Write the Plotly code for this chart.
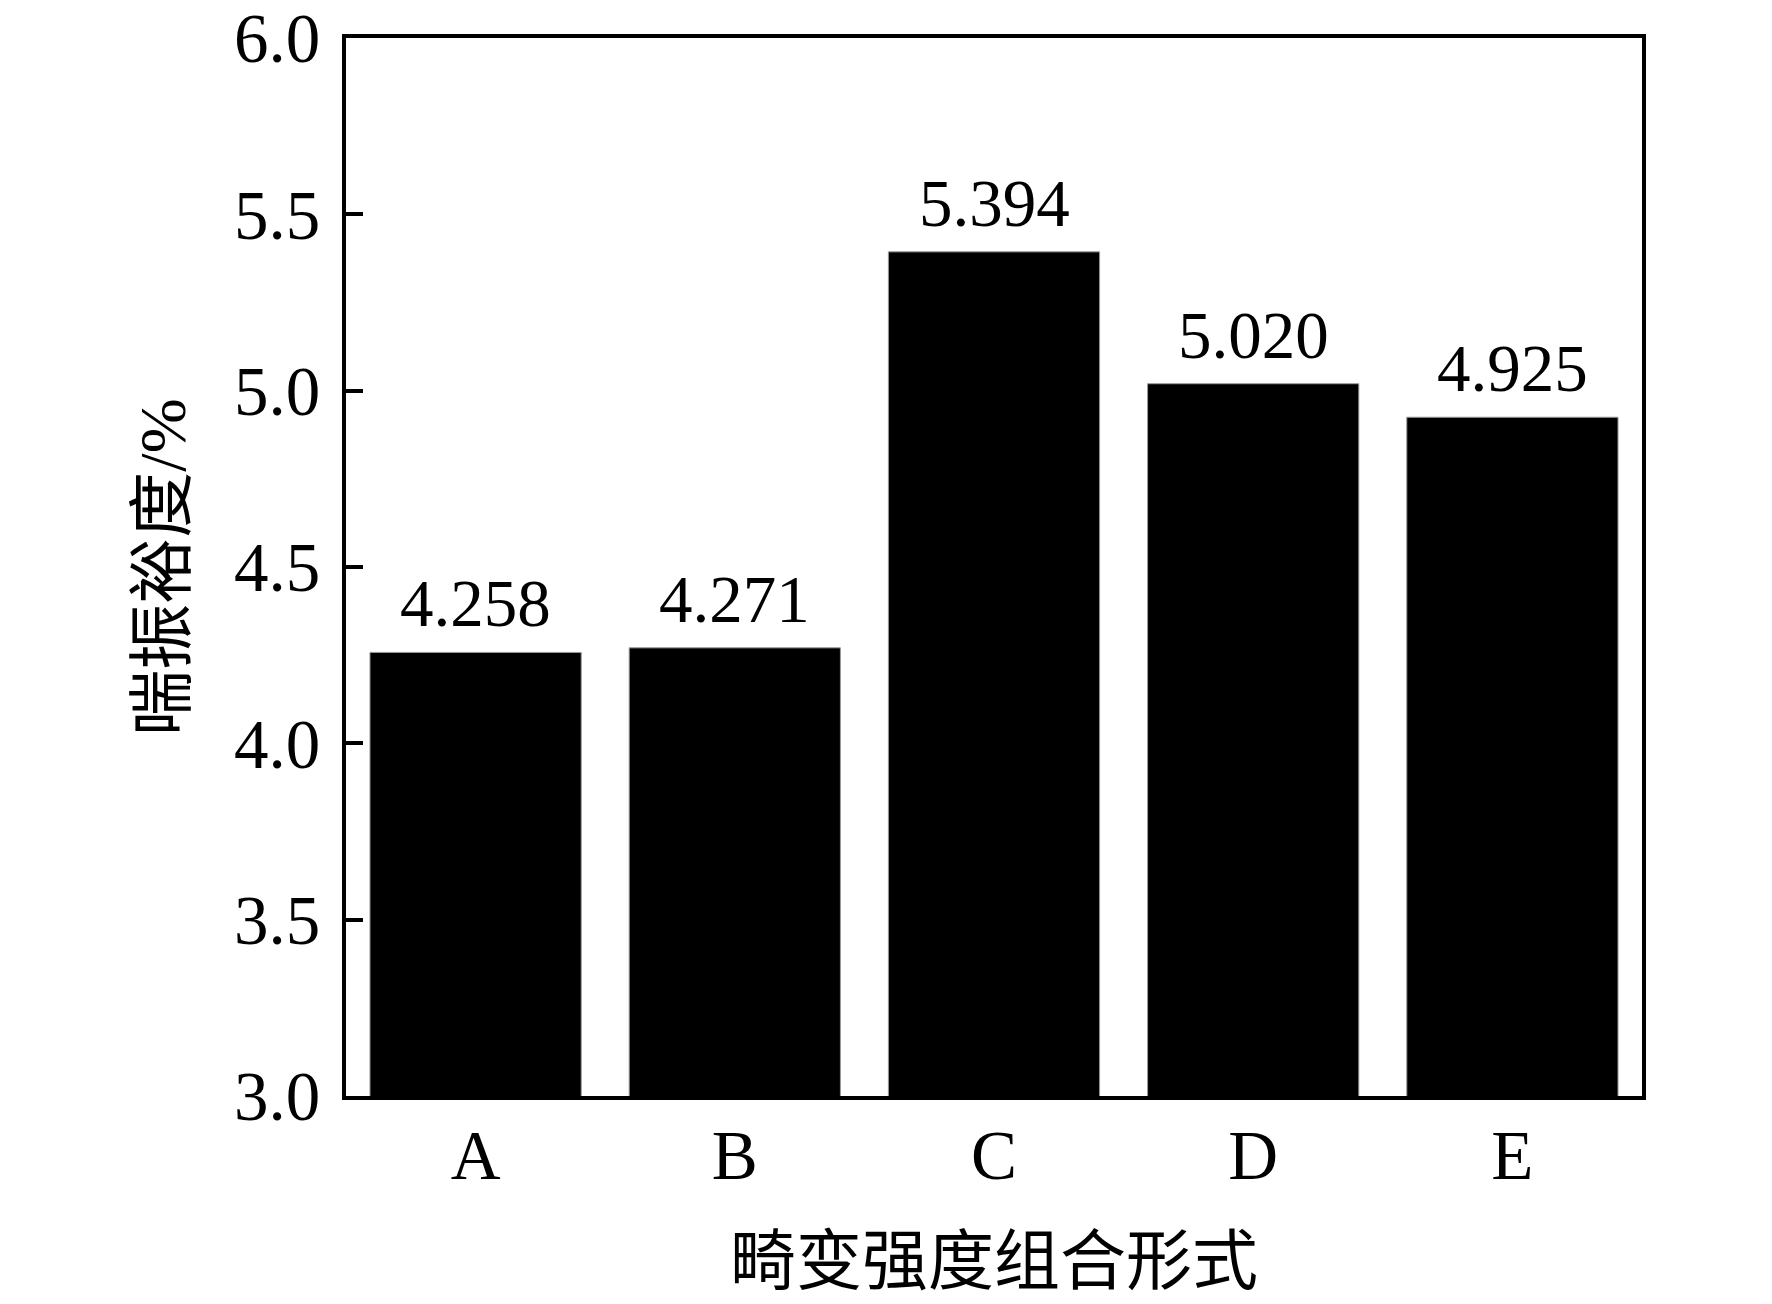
import plotly.graph_objects as go

# categories and values
categories = ['A', 'B', 'C', 'D', 'E']
surge_margin = [4.258, 4.271, 5.394, 5.020, 4.925]
value_labels = ['4.258', '4.271', '5.394', '5.020', '4.925']
y_ticks = [3.0, 3.5, 4.0, 4.5, 5.0, 5.5, 6.0]

font_family = 'Liberation Serif, Times New Roman, Noto Sans CJK SC'

fig = go.Figure()
fig.add_trace(go.Bar(
    x=categories, y=surge_margin,
    marker=dict(color='black', line=dict(color='#9a9a9a', width=1)),
    showlegend=False,
))

# value labels above bars
for cat, val, lab in zip(categories, surge_margin, value_labels):
    fig.add_annotation(x=cat, y=val, text=lab, showarrow=False,
                       yanchor='bottom', yshift=10,
                       font=dict(size=67, color='black', family=font_family))

fig.update_layout(
    width=1772, height=1304,
    margin=dict(l=338, r=138, t=30, b=216),
    paper_bgcolor='white', plot_bgcolor='white',
    bargap=0.185,
    font=dict(family=font_family, size=69, color='black'),
)

fig.update_xaxes(
    title=dict(text='畸变强度组合形式', font=dict(size=66), standoff=46),
    showline=True, linecolor='black', linewidth=4, mirror=True,
    ticks='', showgrid=False, ticklabelstandoff=-4,
    tickfont=dict(size=69), automargin=False,
)
fig.update_yaxes(
    title=dict(text='喘振裕度/%', font=dict(size=66), standoff=28),
    range=[3.0, 6.0005], tickvals=y_ticks, tickformat='.1f',
    showline=True, linecolor='black', linewidth=4, mirror=True,
    ticks='inside', ticklen=17, tickwidth=4, tickcolor='black',
    showgrid=False, zeroline=False, ticklabelstandoff=8,
    ticklabeloverflow='allow', automargin=False,
    tickfont=dict(size=69),
)

fig.write_html("out.html")
